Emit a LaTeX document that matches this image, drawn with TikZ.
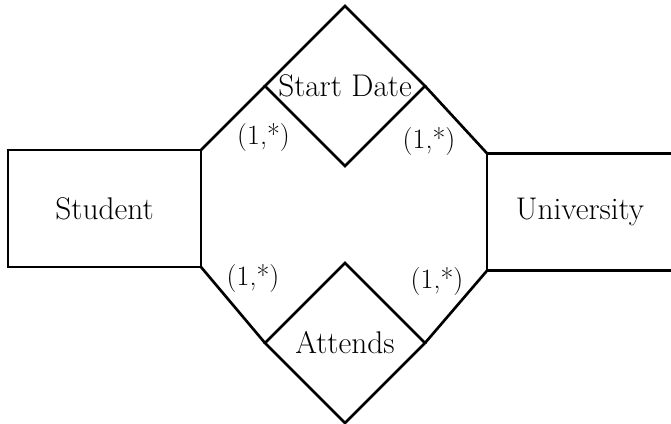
\documentclass[tikz,border=0pt]{standalone}
\usepackage{fontspec}
\usepackage{tikz}
\usetikzlibrary{shapes.geometric}

\begin{document}
\begin{tikzpicture}[x=0.75pt, y=-0.75pt,
	entity/.style={draw, line width=2pt, rectangle, outer sep=0pt, inner sep=0pt,
		font=\fontsize{23.5}{28}\selectfont},
	relation/.style={draw, line width=2pt, diamond, aspect=1, outer sep=0pt, inner sep=0pt,
		minimum width=120pt, minimum height=120pt, font=\fontsize{23.5}{28}\selectfont},
	card/.style={inner sep=0pt, font=\fontsize{21}{25}\selectfont},
	link/.style={line width=2pt}]

\useasboundingbox (0,0) rectangle (671,424);

\node [entity, minimum width=144.75pt, minimum height=87.75pt] (student) at (104.5,208.5) {Student};
\node [entity, minimum width=139.5pt, minimum height=88pt] (university) at (580,212) {University};

\node [relation] (startdate) at (345,86) {Start Date};
\node [relation] (attends) at (345,343) {Attends};

\draw [link] (student.north east) -- (startdate.west);
\draw [link] (startdate.east) -- (university.north west);
\draw [link] (student.south east) -- (attends.west);
\draw [link] (attends.east) -- (university.south west);

\node [card] (c1) at (263.5,138) {(1,*)};
\node [card] (c2) at (429,142) {(1,*)};
\node [card] (c3) at (253,279) {(1,*)};
\node [card] (c4) at (437,282) {(1,*)};

\end{tikzpicture}
\end{document}
